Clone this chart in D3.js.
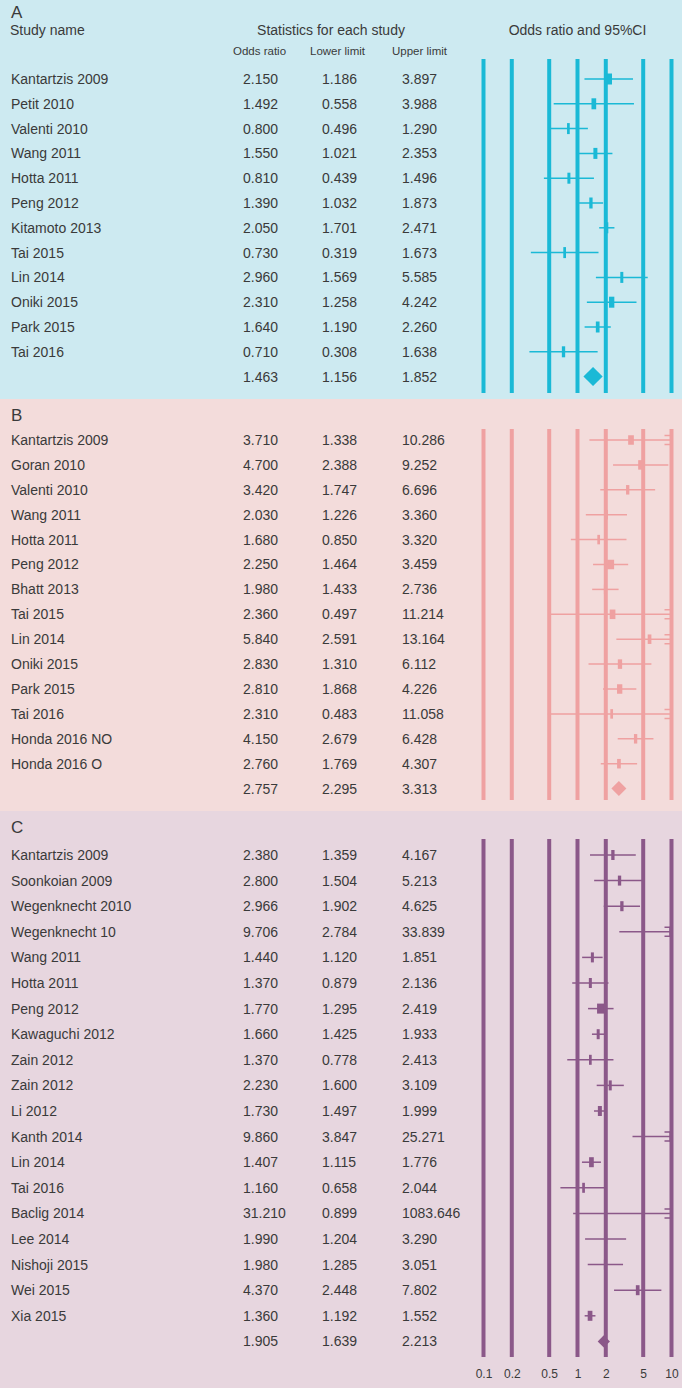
<!DOCTYPE html>
<html lang="en">
<head>
  <meta charset="UTF-8">
  <title>Forest plots</title>
  <script src="https://d3js.org/d3.v7.min.js"></script>
  <style>
    body { margin: 0; }
    text { font-family: "Liberation Sans", Arial, sans-serif; fill: #3a3a3a; }
  </style>
</head>
<body>
  <div id="main" style="width: 682px; height: 1388px"></div>
  <script>
    // ---- data: panel A
    var studiesA = ["Kantartzis 2009", "Petit 2010", "Valenti 2010", "Wang 2011", "Hotta 2011", "Peng 2012",
      "Kitamoto 2013", "Tai 2015", "Lin 2014", "Oniki 2015", "Park 2015", "Tai 2016"];
    var orA = [2.150, 1.492, 0.800, 1.550, 0.810, 1.390, 2.050, 0.730, 2.960, 2.310, 1.640, 0.710];
    var lowA = [1.186, 0.558, 0.496, 1.021, 0.439, 1.032, 1.701, 0.319, 1.569, 1.258, 1.190, 0.308];
    var upA = [3.897, 3.988, 1.290, 2.353, 1.496, 1.873, 2.471, 1.673, 5.585, 4.242, 2.260, 1.638];
    var weightA = [13, 9.4, 5.4, 8, 6, 6.6, 6, 5.4, 6, 10.6, 7.4, 6.6];
    var pooledA = [1.463, 1.156, 1.852];

    // ---- data: panel B
    var studiesB = ["Kantartzis 2009", "Goran 2010", "Valenti 2010", "Wang 2011", "Hotta 2011", "Peng 2012",
      "Bhatt 2013", "Tai 2015", "Lin 2014", "Oniki 2015", "Park 2015", "Tai 2016", "Honda 2016 NO", "Honda 2016 O"];
    var orB = [3.710, 4.700, 3.420, 2.030, 1.680, 2.250, 1.980, 2.360, 5.840, 2.830, 2.810, 2.310, 4.150, 2.760];
    var lowB = [1.338, 2.388, 1.747, 1.226, 0.850, 1.464, 1.433, 0.497, 2.591, 1.310, 1.868, 0.483, 2.679, 1.769];
    var upB = [10.286, 9.252, 6.696, 3.360, 3.320, 3.459, 2.736, 11.214, 13.164, 6.112, 4.226, 11.058, 6.428, 4.307];
    var weightB = [11.4, 10, 6.6, 6, 5.4, 14, 6, 11.4, 7.4, 8.6, 10.6, 5.4, 6.6, 7.4];
    var pooledB = [2.757, 2.295, 3.313];

    // ---- data: panel C
    var studiesC = ["Kantartzis 2009", "Soonkoian 2009", "Wegenknecht 2010", "Wegenknecht 10", "Wang 2011",
      "Hotta 2011", "Peng 2012", "Kawaguchi 2012", "Zain 2012", "Zain 2012", "Li 2012", "Kanth 2014", "Lin 2014",
      "Tai 2016", "Baclig 2014", "Lee 2014", "Nishoji 2015", "Wei 2015", "Xia 2015"];
    var orC = [2.380, 2.800, 2.966, 9.706, 1.440, 1.370, 1.770, 1.660, 1.370, 2.230, 1.730, 9.860, 1.407, 1.160,
      31.210, 1.990, 1.980, 4.370, 1.360];
    var lowC = [1.359, 1.504, 1.902, 2.784, 1.120, 0.879, 1.295, 1.425, 0.778, 1.600, 1.497, 3.847, 1.115, 0.658,
      0.899, 1.204, 1.285, 2.448, 1.192];
    var upC = [4.167, 5.213, 4.625, 33.839, 1.851, 2.136, 2.419, 1.933, 2.413, 3.109, 1.999, 25.271, 1.776, 2.044,
      1083.646, 3.290, 3.051, 7.802, 1.552];
    var weightC = [6.6, 6.6, 6.6, 4, 6, 6, 15, 6, 5.4, 6, 8, 6, 9.4, 5.4, 2, 6, 6, 7.4, 9.4];
    var pooledC = [1.905, 1.639, 2.213];

    var ticks = [0.1, 0.2, 0.5, 1, 2, 5, 10];

    var width = 682, height = 1388;
    var fmt = d3.format(".3f");

    var svg = d3.select("#main").append("svg")
      .attr("width", width)
      .attr("height", height);

    // log scale shared by all panels
    var x = d3.scaleLog().domain([0.1, 10]).range([483.5, 671.5]);

    var panels = [
      { label: "A", names: studiesA, or: orA, low: lowA, up: upA, w: weightA, pooled: pooledA,
        top: 0, bottom: 399, bg: "#cdeaf1", col: "#1ab9d6", first: 79, last: 376.6, lineTop: 59, lineBot: 393, boxH: 11 },
      { label: "B", names: studiesB, or: orB, low: lowB, up: upB, w: weightB, pooled: pooledB,
        top: 399, bottom: 811, bg: "#f3dcdb", col: "#efa1a1", first: 440, last: 788.6, lineTop: 429, lineBot: 800, boxH: 9.5 },
      { label: "C", names: studiesC, or: orC, low: lowC, up: upC, w: weightC, pooled: pooledC,
        top: 811, bottom: 1388, bg: "#e7d6df", col: "#8b5889", first: 855, last: 1341.4, lineTop: 839, lineBot: 1357, boxH: 10 }
    ];

    var wScale = d3.scaleLinear().domain([0, 10]).range([0, 5]);
    var clamp = function (v) { return Math.max(0.1, Math.min(10, v)); };

    panels.forEach(function (p) {
      var n = p.names.length;
      var y = d3.scaleLinear().domain([0, n]).range([p.first, p.last]);
      var g = svg.append("g");

      g.append("rect")
        .attr("x", 0).attr("y", p.top)
        .attr("width", width).attr("height", p.bottom - p.top)
        .attr("fill", p.bg);

      // panel letter
      g.append("text")
        .attr("x", 11)
        .attr("y", p.label == "A" ? 12 : p.top + 16)
        .attr("dy", "0.35em")
        .style("font-size", "17px")
        .text(p.label);

      // text columns
      var rows = d3.range(n);
      g.selectAll(".name").data(rows).enter().append("text")
        .attr("x", 11).attr("y", function (i) { return y(i); }).attr("dy", "0.35em")
        .style("font-size", "14px")
        .text(function (i) { return p.names[i]; });
      [[p.or, 243], [p.low, 322], [p.up, 402]].forEach(function (c) {
        g.selectAll(null).data(rows).enter().append("text")
          .attr("x", c[1]).attr("y", function (i) { return y(i); }).attr("dy", "0.35em")
          .style("font-size", "14px")
          .text(function (i) { return fmt(c[0][i]); });
      });
      [243, 322, 402].forEach(function (cx, k) {
        g.append("text")
          .attr("x", cx).attr("y", y(n)).attr("dy", "0.35em")
          .style("font-size", "14px")
          .text(fmt(p.pooled[k]));
      });

      // CI lines
      g.selectAll(".ci").data(rows).enter().append("line")
        .attr("x1", function (i) { return x(clamp(p.low[i])); })
        .attr("x2", function (i) { return x(clamp(p.up[i])); })
        .attr("y1", function (i) { return y(i); })
        .attr("y2", function (i) { return y(i); })
        .attr("stroke", p.col).attr("stroke-width", 1.5);

      // arrows where CI runs past the axis
      var over = rows.filter(function (i) { return p.up[i] > 10; });
      g.selectAll(".arrow").data(over).enter().append("path")
        .attr("d", function (i) {
          var xe = x(10), yy = y(i);
          return "M" + (xe - 7) + "," + (yy - 4.5) + "L" + xe + "," + (yy - 4.5) +
            "M" + (xe - 7) + "," + (yy + 4.5) + "L" + xe + "," + (yy + 4.5);
        })
        .attr("stroke", p.col).attr("stroke-width", 1.5).attr("fill", "none");

      // study boxes
      var inside = rows.filter(function (i) { return p.or[i] <= 10; });
      g.selectAll(".box").data(inside).enter().append("rect")
        .attr("x", function (i) { return x(p.or[i]) - wScale(p.w[i]) / 2; })
        .attr("y", function (i) { return y(i) - p.boxH / 2; })
        .attr("width", function (i) { return wScale(p.w[i]); })
        .attr("height", p.boxH)
        .attr("fill", p.col);

      // pooled diamond
      var xl = x(p.pooled[1]), xr = x(p.pooled[2]), xm = x(p.pooled[0]), yc = y(n);
      var hh = Math.min(9.5, (xr - xl) / 2);
      g.append("path")
        .attr("d", "M" + xl + "," + yc + "L" + xm + "," + (yc - hh) + "L" + xr + "," + yc + "L" + xm + "," + (yc + hh) + "Z")
        .attr("fill", p.col);

      // reference lines on top
      g.selectAll(".vline").data(ticks).enter().append("line")
        .attr("x1", function (d) { return x(d); })
        .attr("x2", function (d) { return x(d); })
        .attr("y1", p.lineTop).attr("y2", p.lineBot)
        .attr("stroke", p.col).attr("stroke-width", 4);
    });

    // header of panel A
    var head = svg.append("g").style("font-size", "14px");
    head.append("text").attr("x", 10).attr("y", 30).attr("dy", "0.35em").text("Study name");
    head.append("text").attr("x", 331).attr("y", 30).attr("dy", "0.35em")
      .attr("text-anchor", "middle").text("Statistics for each study");
    head.append("text").attr("x", x(1)).attr("y", 30).attr("dy", "0.35em")
      .attr("text-anchor", "middle").text("Odds ratio and 95%CI");
    var subs = [["Odds ratio", 233], ["Lower limit", 310], ["Upper limit", 392]];
    svg.selectAll(".sub").data(subs).enter().append("text")
      .attr("x", function (d) { return d[1]; }).attr("y", 51).attr("dy", "0.35em")
      .style("font-size", "11.5px")
      .text(function (d) { return d[0]; });

    // axis labels at the bottom
    var axis = d3.axisBottom(x).tickValues(ticks).tickFormat(d3.format("~g")).tickSize(0).tickPadding(0);
    var ax = svg.append("g").attr("transform", "translate(0,1369)").call(axis);
    ax.select(".domain").remove();
    ax.selectAll("text").style("font-size", "12px").style("font-family", "'Liberation Sans', Arial, sans-serif")
      .attr("fill", "#3a3a3a");
  </script>
</body>
</html>
